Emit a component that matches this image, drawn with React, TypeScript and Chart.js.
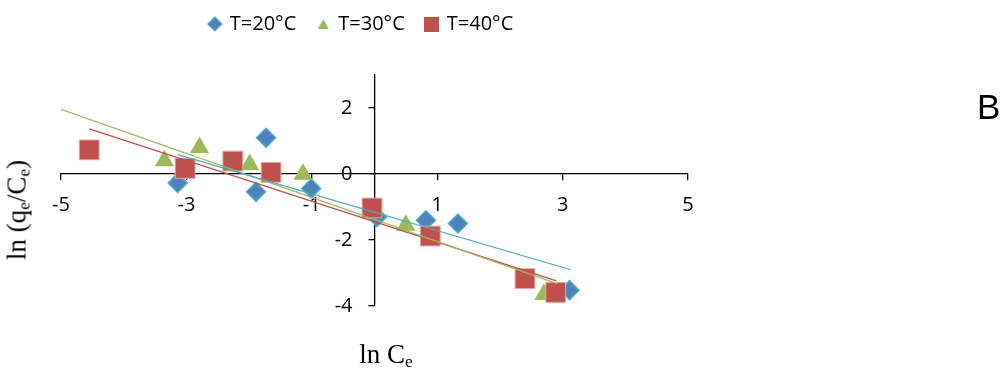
import { useEffect, useRef } from 'react';
import { Chart, registerables } from 'chart.js';

Chart.register(...registerables);

// ---- data ----
const seriesNames = ['T=20°C', 'T=30°C', 'T=40°C'];

const x20 = [-3.14, -1.89, -1.73, -1.01, 0.04, 0.82, 1.33, 3.11];
const y20 = [-0.27, -0.54, 1.1, -0.44, -1.3, -1.4, -1.5, -3.52];

const x30 = [-3.35, -2.79, -1.99, -1.14, 0.5, 2.7];
const y30 = [0.4, 0.8, 0.29, -0.01, -1.55, -3.65];

const x40 = [-4.55, -3.02, -2.26, -1.65, -0.04, 0.89, 2.4, 2.89];
const y40 = [0.73, 0.17, 0.39, 0.05, -1.03, -1.88, -3.17, -3.59];

// linear trendlines (slope, intercept, x-extent)
const trendSlopes = [-0.556, -0.668, -0.618];
const trendIntercepts = [-1.16, -1.38, -1.445];
const trendXStart = [-3.14, -5, -4.55];
const trendXEnd = [3.13, 2.91, 2.9];

const xTicks = [-5, -3, -1, 1, 3, 5];
const yTicks = [-4, -2, 0, 2];

// ---- styles ----
const fillColors = ['#4F81BD', '#9BBB59', '#C0504D'];
const edgeColors = ['#4BACC6', '#9BBB59', '#E6A7A5'];
const trendColors = ['#4BACC6', '#9BBB59', '#C0504D'];

const toPts = (xs: number[], ys: number[]) => xs.map((x, i) => ({ x, y: ys[i] }));
const trendPts = (i: number) => [
  { x: trendXStart[i], y: trendSlopes[i] * trendXStart[i] + trendIntercepts[i] },
  { x: trendXEnd[i], y: trendSlopes[i] * trendXEnd[i] + trendIntercepts[i] },
];

const LEGEND_H = 75;
const LEGEND_DX = -13;
const LEGEND_TOP = -8;
const Y_LABEL_ROOM = 80;

// keeps the legend where it sits in the original and makes the y axis cross x = 0
const layoutTweaks = {
  id: 'layoutTweaks',
  beforeInit(chart: any) {
    const lg = chart.legend;
    if (!lg) return;
    const fit = lg.fit;
    lg.fit = function () {
      fit.call(this);
      this.height = LEGEND_H;
    };
  },
  afterLayout(chart: any) {
    const lg = chart.legend;
    if (lg) {
      lg.left += LEGEND_DX;
      lg.right += LEGEND_DX;
      const h = lg.bottom - lg.top;
      lg.top = LEGEND_TOP;
      lg.bottom = LEGEND_TOP + h;
    }
    const xs = chart.scales.x;
    const ys = chart.scales.y;
    if (xs && ys) {
      const px = xs.getPixelForValue(0);
      ys.left = px - Y_LABEL_ROOM;
      ys.right = px;
      ys.width = Y_LABEL_ROOM;
    }
  },
};

function makeCanvas(w: number, h: number, draw: (ctx: CanvasRenderingContext2D) => void) {
  const c = document.createElement('canvas');
  c.width = w;
  c.height = h;
  const ctx = c.getContext('2d')!;
  draw(ctx);
  return c;
}

export default function App() {
  const ref = useRef<HTMLCanvasElement>(null);

  useEffect(() => {
    document.body.style.margin = '0';
    const diamond = makeCanvas(16, 16, (ctx) => {
      ctx.beginPath();
      ctx.moveTo(8, 1);
      ctx.lineTo(15, 8);
      ctx.lineTo(8, 15);
      ctx.lineTo(1, 8);
      ctx.closePath();
      ctx.fillStyle = fillColors[0];
      ctx.fill();
      ctx.strokeStyle = edgeColors[0];
      ctx.lineWidth = 1.2;
      ctx.stroke();
    });
    const triangle = makeCanvas(11, 10, (ctx) => {
      ctx.beginPath();
      ctx.moveTo(5.5, 0);
      ctx.lineTo(11, 10);
      ctx.lineTo(0, 10);
      ctx.closePath();
      ctx.fillStyle = fillColors[1];
      ctx.fill();
    });
    const square = makeCanvas(15, 15, (ctx) => {
      ctx.fillStyle = fillColors[2];
      ctx.fillRect(0, 0, 15, 15);
    });
    const legendImgs = [diamond, triangle, square];

    const tickFont = { family: 'Open Sans', size: 20 };

    const chart = new Chart(ref.current!, {
      type: 'scatter',
      data: {
        datasets: [
          {
            label: seriesNames[0],
            data: toPts(x20, y20),
            pointStyle: 'rectRot',
            pointRadius: 9.5,
            backgroundColor: fillColors[0],
            borderColor: edgeColors[0],
            borderWidth: 1.5,
            order: 3,
          },
          {
            label: seriesNames[1],
            data: toPts(x30, y30),
            pointStyle: 'triangle',
            pointRadius: 11,
            backgroundColor: fillColors[1],
            borderColor: edgeColors[1],
            borderWidth: 0,
            order: 2,
          },
          {
            label: seriesNames[2],
            data: toPts(x40, y40),
            pointStyle: 'rect',
            pointRadius: 14,
            backgroundColor: fillColors[2],
            borderColor: edgeColors[2],
            borderWidth: 1,
            order: 1,
          },
          ...[0, 1, 2].map((i) => ({
            label: 'trend ' + seriesNames[i],
            data: trendPts(i),
            showLine: true,
            pointRadius: 0,
            borderColor: trendColors[i],
            borderWidth: 1.2,
            fill: false,
            order: 0,
          })),
        ] as any,
      },
      options: {
        animation: false,
        responsive: false,
        layout: { padding: { left: 61, right: 318, top: 0, bottom: 65 } },
        plugins: {
          tooltip: { enabled: false },
          legend: {
            display: true,
            position: 'top',
            labels: {
              usePointStyle: true,
              boxWidth: 10,
              boxHeight: 10,
              padding: 22,
              color: '#000',
              font: { family: 'Open Sans', size: 20 },
              generateLabels: () =>
                legendImgs.map((img, i) => ({
                  text: seriesNames[i],
                  pointStyle: img as any,
                  fillStyle: fillColors[i],
                  strokeStyle: fillColors[i],
                  lineWidth: 0,
                  hidden: false,
                  datasetIndex: i,
                  fontColor: '#000',
                })),
            },
          },
        },
        scales: {
          x: {
            type: 'linear',
            min: -5,
            max: 5,
            position: { y: 0 } as any,
            afterBuildTicks: (s: any) => {
              s.ticks = xTicks.map((v) => ({ value: v }));
            },
            afterFit: (s: any) => {
              s.height = 0;
            },
            grid: { drawOnChartArea: false, drawTicks: true, tickLength: 6, color: '#000', lineWidth: 1.3 },
            border: { display: true, color: '#000', width: 1.3 },
            ticks: { font: tickFont, color: '#000', padding: 13, maxRotation: 0, autoSkip: false, callback: (v: any) => String(v) },
          },
          y: {
            type: 'linear',
            min: -4,
            max: 3,
            position: 'left',
            afterBuildTicks: (s: any) => {
              s.ticks = yTicks.map((v) => ({ value: v }));
            },
            afterFit: (s: any) => {
              s.width = 0;
            },
            grid: { drawOnChartArea: false, drawTicks: true, tickLength: 6, color: '#000', lineWidth: 1.3 },
            border: { display: true, color: '#000', width: 1.3 },
            ticks: { font: tickFont, color: '#000', padding: 16, autoSkip: false, callback: (v: any) => String(v) },
          },
        },
      },
      plugins: [layoutTweaks],
    });
    return () => chart.destroy();
  }, []);

  const serif = '"Liberation Serif", "Times New Roman", serif';
  const subStyle: React.CSSProperties = { fontSize: '0.65em', verticalAlign: '-0.25em', lineHeight: 0 };

  return (
    <div style={{ position: 'absolute', left: 0, top: 0, width: 1006, height: 371, background: '#fff', overflow: 'hidden' }}>
      <canvas ref={ref} width={1006} height={371} style={{ position: 'absolute', left: 0, top: 0 }} />
      <div
        style={{
          position: 'absolute',
          left: 17,
          top: 209.5,
          transform: 'translate(-50%, -50%) rotate(-90deg)',
          fontFamily: serif,
          fontSize: 27,
          lineHeight: 1,
          whiteSpace: 'nowrap',
          color: '#000',
        }}
      >
        ln (q<span style={subStyle}>e</span>/C<span style={subStyle}>e</span>)
      </div>
      <div
        style={{
          position: 'absolute',
          left: 386,
          top: 341,
          transform: 'translateX(-50%)',
          fontFamily: serif,
          fontSize: 27,
          lineHeight: 1,
          whiteSpace: 'nowrap',
          color: '#000',
        }}
      >
        ln C<span style={subStyle}>e</span>
      </div>
      <div
        style={{
          position: 'absolute',
          left: 977,
          top: 88.5,
          fontFamily: '"Liberation Sans", Arial, sans-serif',
          fontSize: 35,
          lineHeight: 1,
          color: '#000',
        }}
      >
        B
      </div>
    </div>
  );
}
